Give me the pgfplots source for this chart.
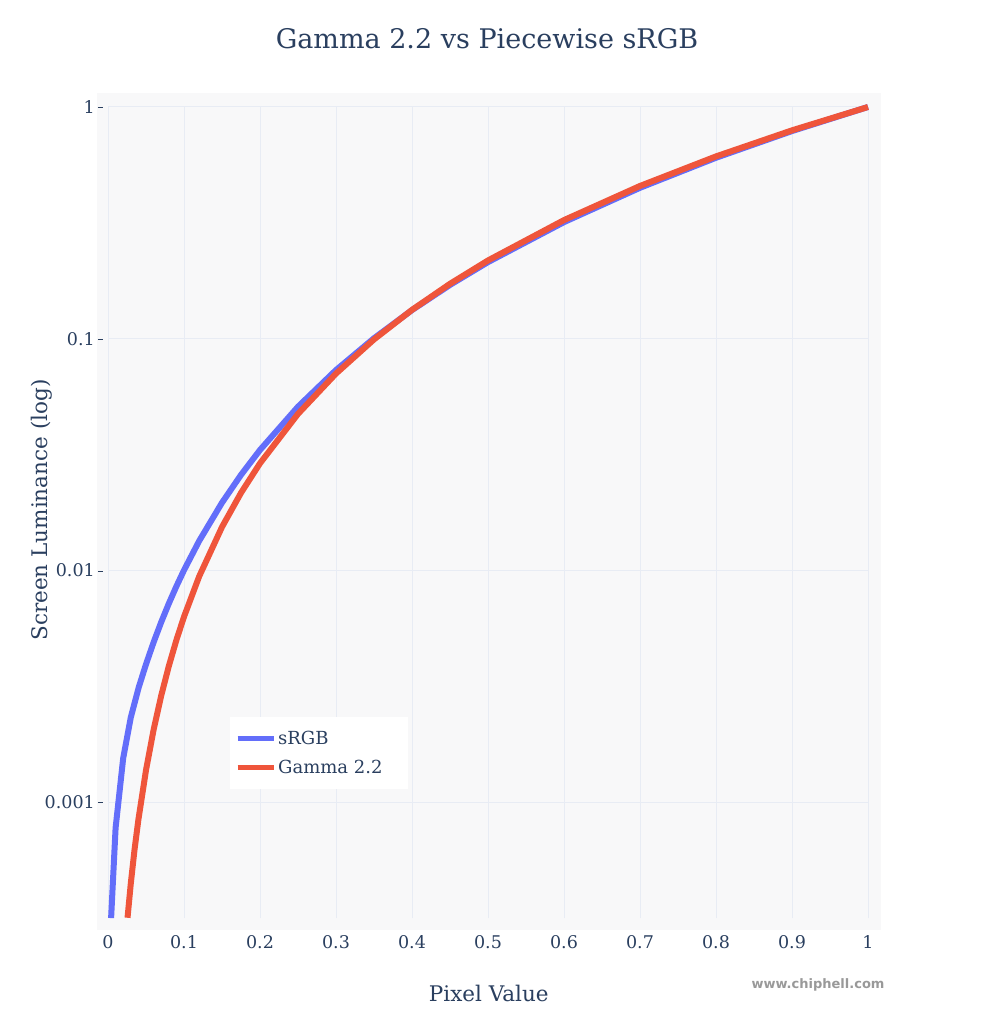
\documentclass[border=0pt]{standalone}
\usepackage{fontspec}
\setmainfont{DejaVu Serif}
\newfontfamily\wm{DejaVu Sans}
\usepackage{pgfplots}
\pgfplotsset{compat=1.18}
\definecolor{txt}{HTML}{2A3F5F}
\definecolor{bgc}{HTML}{F8F8F9}
\definecolor{gridc}{HTML}{E8ECF4}
\definecolor{cblue}{HTML}{636EFA}
\definecolor{cred}{HTML}{EF553B}
\begin{document}
\begin{tikzpicture}[x=1pt,y=1pt]
\path[use as bounding box, fill=white] (0,0) rectangle (980,1019);
\fill[bgc] (97,89) rectangle (881,926);
\begin{axis}[
  at={(108pt,101pt)}, anchor=south west,
  scale only axis, width=760pt, height=811pt,
  xmin=0, xmax=1, ymin=0.000316228, ymax=1,
  ymode=log, clip=false,
  axis line style={draw=none},
  major tick length=0pt, minor tick length=0pt,
  yminorticks=false, xminorticks=false,
  tick pos=left,
  xtick={0,0.1,0.2,0.3,0.4,0.5,0.6,0.7,0.8,0.9,1},
  xticklabels={0,0.1,0.2,0.3,0.4,0.5,0.6,0.7,0.8,0.9,1},
  ytick={0.001,0.01,0.1,1},
  yticklabels={0.001\hspace{3pt}\rule[0.3em]{5pt}{0.8pt},0.01\hspace{3pt}\rule[0.3em]{5pt}{0.8pt},0.1\hspace{3pt}\rule[0.3em]{5pt}{0.8pt},1\hspace{3pt}\rule[0.3em]{5pt}{0.8pt}},
  grid=major,
  major grid style={draw=gridc, line width=1pt},
  ticklabel style={font=\fontsize{17.5}{21}\selectfont, text=txt},
  xticklabel style={anchor=north, inner sep=0pt, yshift=-17pt},
  yticklabel style={anchor=east, inner sep=0pt, xshift=-5pt},
  title={Gamma 2.2 vs Piecewise sRGB},
  title style={at={(axis description cs:0.4987,1.0764)}, anchor=center, font=\fontsize{27}{32}\selectfont, text=txt},
  xlabel={Pixel Value},
  xlabel style={at={(axis description cs:0.501,0)}, anchor=center, yshift=-75pt, font=\fontsize{21.5}{26}\selectfont, text=txt},
  ylabel={Screen Luminance (log)},
  ylabel style={at={(axis description cs:-0.0868,0.503)}, anchor=center, rotate=0, font=\fontsize{21.5}{26}\selectfont, text=txt},
  legend style={at={(rel axis cs:0.1605,0.2478)}, anchor=north west, draw=none, fill=white,
    inner xsep=5pt, inner ysep=12pt, row sep=10pt,
    font=\fontsize{18}{22}\selectfont, text=txt},
  legend cell align=left,
  legend image code/.code={\draw[#1, line width=5pt] (0pt,0pt) -- (36pt,0pt);},
]
\addplot[cblue, line width=6pt, line join=round] coordinates {
(0.00409,0.000316) (0.01,0.000774) (0.02,0.001548) (0.03,0.002322) (0.04045,0.003131)
(0.05,0.003936) (0.06,0.004896) (0.07,0.005982) (0.08,0.007194) (0.09,0.008540)
(0.1,0.010022) (0.12,0.013411) (0.15,0.019606) (0.175,0.025840) (0.2,0.033105)
(0.25,0.050876) (0.3,0.073239) (0.35,0.100481) (0.4,0.132868) (0.45,0.170645)
(0.5,0.214041) (0.6,0.318547) (0.7,0.447988) (0.8,0.603827) (0.9,0.787412) (1,1)
};
\addlegendentry{sRGB}
\addplot[cred, line width=6pt, line join=round] coordinates {
(0.0257,0.000317) (0.03,0.000446) (0.035,0.000627) (0.04,0.000841) (0.05,0.001374)
(0.06,0.002052) (0.07,0.002880) (0.08,0.003863) (0.09,0.005006) (0.1,0.006310)
(0.12,0.009428) (0.15,0.015397) (0.175,0.021610) (0.2,0.028991) (0.25,0.047366)
(0.3,0.070740) (0.35,0.099300) (0.4,0.133200) (0.45,0.172605) (0.5,0.217638)
(0.6,0.325037) (0.7,0.456263) (0.8,0.612066) (0.9,0.793120) (1,1)
};
\addlegendentry{Gamma 2.2\rule{18pt}{0pt}}
\end{axis}
\node[text=gray!80, font=\wm\bfseries\fontsize{13}{15}\selectfont] at (818,34) {www.chiphell.com};
\end{tikzpicture}
\end{document}
